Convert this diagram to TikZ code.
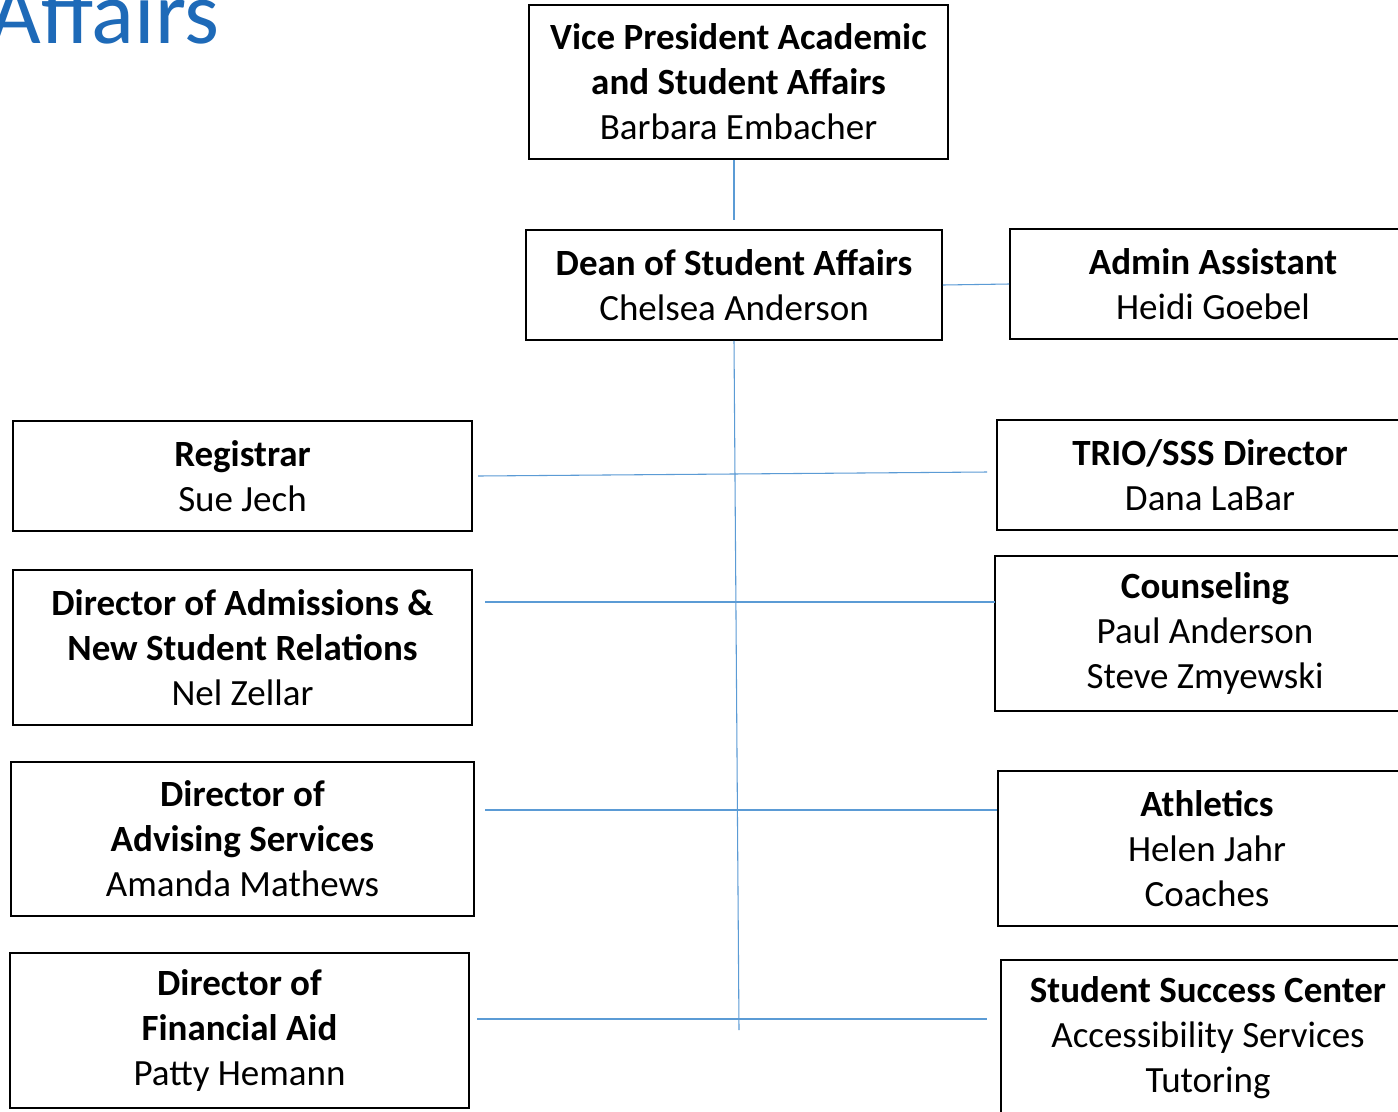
\documentclass[tikz,border=0pt]{standalone}
\usepackage{fontspec}
\setmainfont{Carlito}
\definecolor{titleblue}{RGB}{30,106,184}
\definecolor{linkblue}{RGB}{91,155,213}
\begin{document}
\begin{tikzpicture}[x=0.75pt,y=-0.75pt,
  bx/.style 2 args={draw=black, line width=1.3pt, inner sep=0pt, align=center,
    minimum width=#1*0.75pt, minimum height=#2*0.75pt,
    font=\fontsize{27.75pt}{33.75pt}\selectfont},
  link/.style={draw=linkblue, line width=0.8pt}]
\clip (0,0) rectangle (1398,1111);
\fill[white] (0,0) rectangle (1398,1111);

\node[anchor=base east, text=titleblue, inner sep=0pt,
  font=\fontsize{67pt}{80pt}\selectfont] (title) at (220,43) {Affairs};

\node[bx={419}{154}] (vp) at (738.5,82) {\textbf{Vice President Academic}\\\textbf{and Student Affairs}\\Barbara Embacher};
\node[bx={416}{110}] (dean) at (734,285) {\textbf{Dean of Student Affairs}\\Chelsea Anderson};
\node[bx={406}{110}] (admin) at (1213,284) {\textbf{Admin Assistant}\\Heidi Goebel};

\node[bx={459}{110}] (reg) at (242.5,476) {\textbf{Registrar}\\Sue Jech};
\node[bx={426}{110}] (trio) at (1210,475) {\textbf{TRIO/SSS Director}\\Dana LaBar};
\node[bx={459}{155}] (adm) at (242.5,647.5) {\textbf{Director of Admissions \&}\\\textbf{New Student Relations}\\Nel Zellar};
\node[bx={420}{155}] (couns) at (1205,633.5) {\textbf{Counseling}\\Paul Anderson\\Steve Zmyewski};
\node[bx={463}{154}] (adv) at (242.5,839) {\textbf{Director of}\\\textbf{Advising Services}\\Amanda Mathews};
\node[bx={418}{155}] (ath) at (1207,848.5) {\textbf{Athletics}\\Helen Jahr\\Coaches};
\node[bx={459}{155}] (fin) at (239.5,1030.5) {\textbf{Director of}\\\textbf{Financial Aid}\\Patty Hemann};
\node[bx={414}{155}] (ssc) at (1208,1037.5) {\textbf{Student Success Center}\\Accessibility Services\\Tutoring};

% connectors
\coordinate (vpdown) at (734,220);
\draw[link] (vp.south -| vpdown) -- (vpdown);
\draw[link] (dean.east) -- (admin.west);
\coordinate (trunkend) at (739,1030);
\draw[link] (dean.south) -- (trunkend);

\coordinate (r1) at (478,476); \coordinate (r2) at (987,472);
\draw[link] (r1) -- (r2);
\coordinate (a1) at (485,602); \coordinate (a2) at (995,602);
\draw[link] (a1) -- (a2);
\coordinate (v1) at (485,810); \coordinate (v2) at (997,810);
\draw[link] (v1) -- (v2);
\coordinate (f1) at (477,1019); \coordinate (f2) at (987,1019);
\draw[link] (f1) -- (f2);
\end{tikzpicture}
\end{document}
